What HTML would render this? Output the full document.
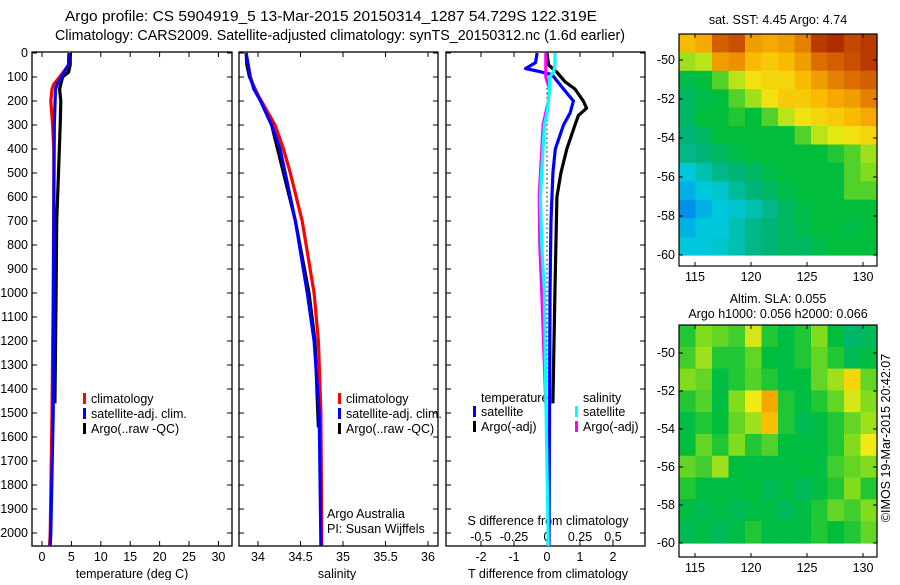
<!DOCTYPE html>
<html><head><meta charset="utf-8"><style>
body{margin:0;background:#fff;width:900px;height:580px;overflow:hidden}
svg text{font-family:"Liberation Sans",sans-serif;font-size:12.5px;fill:#000}
</style></head><body>
<svg id="c" width="900" height="580" xmlns="http://www.w3.org/2000/svg"></svg>
<script>
// ---- data ----
const depthTicks=[0,100,200,300,400,500,600,700,800,900,1000,1100,1200,1300,1400,1500,1600,1700,1800,1900,2000];
const tempTicks=[0,5,10,15,20,25,30];
const salTicks=[34,34.5,35,35.5,36];
const tdTicks=[-2,-1,0,1,2];
const sdTicks=[-0.5,-0.25,0,0.25,0.5];
const sdLabels=["-0.5","-0.25","0","0.25","0.5"];
const tdLabels=["-2","-1","0","1","2"];
const latTicks=[-50,-52,-54,-56,-58,-60];
const lonTicks=[115,120,125,130];
// temperature profiles [depth,value]
const tClim=[[0,4.6],[50,4.5],[80,3.6],[100,3.0],[130,2.0],[150,1.7],[200,1.5],[300,1.8],[400,2.0],[600,2.0],[1000,1.9],[1500,1.7],[2000,1.4],[2054,1.3]];
const tSat=[[0,4.6],[50,4.5],[80,3.8],[100,3.3],[130,2.6],[150,2.3],[300,2.1],[700,2.0],[1000,1.95],[1500,1.9],[2000,1.5],[2054,1.4]];
const tArgo=[[0,4.8],[50,4.8],[80,4.5],[100,3.5],[150,3.0],[200,3.2],[300,3.1],[500,2.8],[700,2.5],[1000,2.4],[1460,2.2]];
// salinity profiles
const sClim=[[0,33.86],[100,33.91],[150,33.96],[200,34.04],[300,34.2],[400,34.3],[500,34.38],[700,34.52],[1000,34.66],[1200,34.71],[1500,34.74],[2054,34.75]];
const sSat=[[0,33.86],[100,33.91],[150,33.95],[200,34.03],[300,34.16],[400,34.26],[500,34.32],[700,34.44],[1000,34.58],[1200,34.66],[1500,34.72],[2054,34.74]];
const sArgo=[[0,33.86],[50,33.87],[100,33.9],[200,34.03],[300,34.16],[500,34.3],[700,34.44],[1000,34.6],[1200,34.67],[1560,34.71]];
// differences
const dTsat=[[0,-0.3],[40,-0.35],[65,-0.65],[75,-0.3],[90,0.15],[150,0.5],[200,0.8],[250,0.7],[300,0.5],[400,0.25],[500,0.18],[700,0.12],[1000,0.09],[2054,0.06]];
const dTargo=[[0,0.0],[50,0.05],[80,0.3],[120,0.55],[150,0.85],[200,1.1],[230,1.2],[260,0.95],[300,0.85],[400,0.6],[500,0.42],[600,0.3],[800,0.27],[1000,0.24],[1460,0.18]];
const dSsat=[[0,0.06],[50,0.06],[80,0.05],[100,0.02],[150,0.02],[250,0.0],[300,-0.02],[400,-0.03],[600,-0.05],[800,-0.04],[1000,-0.02],[1400,-0.01],[2054,0.01]];
const dSargo=[[0,-0.01],[100,-0.01],[150,0.02],[200,0.01],[300,-0.03],[400,-0.04],[600,-0.06],[800,-0.055],[1000,-0.04],[1460,-0.01]];
// map fields (colour index 0..1), rows north->south
const sstGrid=[
[.75,.78,.9,.92,.8,.78,.8,.85,.95,.97,.93,.95],
[.6,.62,.8,.82,.75,.72,.75,.8,.88,.9,.92,.95],
[.48,.5,.55,.62,.68,.7,.7,.75,.8,.85,.88,.9],
[.45,.48,.5,.55,.6,.68,.72,.72,.75,.78,.8,.85],
[.45,.5,.5,.52,.5,.55,.62,.68,.7,.72,.75,.78],
[.42,.45,.5,.5,.5,.5,.5,.55,.62,.65,.68,.7],
[.4,.42,.45,.48,.5,.5,.5,.5,.5,.52,.55,.6],
[.3,.35,.4,.42,.45,.48,.5,.5,.5,.5,.55,.58],
[.28,.3,.32,.38,.42,.45,.48,.5,.5,.5,.55,.55],
[.25,.28,.3,.32,.35,.4,.45,.48,.5,.5,.5,.5],
[.28,.3,.3,.35,.4,.42,.45,.48,.5,.5,.48,.5],
[.3,.3,.32,.35,.4,.42,.45,.45,.48,.5,.5,.5]];
const slaGrid=[
[.52,.58,.56,.54,.64,.52,.49,.52,.58,.5,.44,.46],
[.54,.6,.52,.52,.56,.5,.49,.52,.56,.52,.47,.49],
[.58,.56,.49,.52,.55,.52,.49,.5,.56,.6,.7,.56],
[.52,.55,.49,.58,.66,.78,.52,.49,.52,.56,.64,.58],
[.49,.52,.5,.56,.6,.74,.52,.47,.49,.52,.56,.6],
[.5,.56,.52,.58,.52,.55,.5,.49,.49,.52,.58,.66],
[.56,.54,.6,.5,.49,.49,.49,.5,.49,.54,.56,.58],
[.52,.49,.49,.49,.5,.47,.49,.46,.49,.52,.58,.52],
[.49,.47,.49,.47,.49,.49,.46,.49,.52,.56,.54,.58],
[.47,.49,.46,.49,.52,.49,.49,.49,.52,.5,.52,.56]];

// ---- drawing ----
const S=document.getElementById('c');const NS='http://www.w3.org/2000/svg';
function el(t,a,p){const e=document.createElementNS(NS,t);for(const k in a)e.setAttribute(k,a[k]);(p||S).appendChild(e);return e;}
function txt(x,y,s,anc,p){const e=el('text',{x:x,y:y,'text-anchor':anc||'middle'},p);e.textContent=s;return e;}
const yD=d=>53+d*0.24;
const P1={x0:32,x1:232,sx:v=>42+v*5.88};
const P2={x0:239,x1:438,sx:v=>258+(v-34)*85};
const P3={x0:446,x1:645,sx:v=>547+v*33,ss:v=>547+v*132};
const PTOP=52,PBOT=546;

function frame(P,name){
  const g=el('g',{});
  
  
  el('rect',{x:P.x0,y:PTOP,width:P.x1-P.x0,height:PBOT-PTOP,fill:'none',stroke:'#000','stroke-width':1.3},g);
  depthTicks.forEach(d=>{const y=yD(d);el('line',{x1:P.x0,x2:P.x0+5,y1:y,y2:y,stroke:'#000'},g);el('line',{x1:P.x1-5,x2:P.x1,y1:y,y2:y,stroke:'#000'},g);});
  return g;
}
function line(P,data,sc,color,name,w){
  const pts=data.map(p=>sc(p[1]).toFixed(1)+','+yD(p[0]).toFixed(1)).join(' ');
  const e=el('polyline',{points:pts,fill:'none',stroke:color,'stroke-width':w||3.2,'stroke-linejoin':'round'});
  
  
}
function legend(x,y,items,g){
  items.forEach((it,i)=>{el('rect',{x:x,y:y+i*15-10,width:3,height:11,fill:it[0]},g);txt(x+8,y+i*15,it[1],'start',g);});
}
// titles
let t=txt(331,21,'Argo profile: CS 5904919_5 13-Mar-2015 20150314_1287 54.729S 122.319E');
t.setAttribute('style','font-size:14.5px');t.setAttribute('textLength','532');t.setAttribute('lengthAdjust','spacingAndGlyphs');

t=txt(340,40,'Climatology: CARS2009. Satellite-adjusted climatology: synTS_20150312.nc (1.6d earlier)');
t.setAttribute('style','font-size:14.5px');t.setAttribute('textLength','570');t.setAttribute('lengthAdjust','spacingAndGlyphs');


// panel 1
let g1=frame(P1,'temperature-panel');
depthTicks.forEach(d=>txt(28,yD(d)+4,String(d),'end',g1));
tempTicks.forEach(v=>{const x=P1.sx(v);el('line',{x1:x,x2:x,y1:PTOP,y2:PTOP+5,stroke:'#000'},g1);el('line',{x1:x,x2:x,y1:PBOT-5,y2:PBOT,stroke:'#000'},g1);txt(x,561,String(v),'middle',g1);});
txt(132,578,'temperature (deg C)','middle',g1);
line(P1,tArgo,P1.sx,'#000','temp-argo-line');
line(P1,tClim,P1.sx,'#f00','temp-climatology-line');
line(P1,tSat,P1.sx,'#00f','temp-satellite-line');
legend(83,403,[['#f00','climatology'],['#00f','satellite-adj. clim.'],['#000','Argo(..raw -QC)']],g1);

// panel 2
let g2=frame(P2,'salinity-panel');
salTicks.forEach(v=>{const x=P2.sx(v);el('line',{x1:x,x2:x,y1:PTOP,y2:PTOP+5,stroke:'#000'},g2);el('line',{x1:x,x2:x,y1:PBOT-5,y2:PBOT,stroke:'#000'},g2);txt(x,561,String(v),'middle',g2);});
txt(337,578,'salinity','middle',g2);
line(P2,sArgo,P2.sx,'#000','sal-argo-line');
line(P2,sClim,P2.sx,'#f00','sal-climatology-line');
line(P2,sSat,P2.sx,'#00f','sal-satellite-line');
legend(338,403,[['#f00','climatology'],['#00f','satellite-adj. clim.'],['#000','Argo(..raw -QC)']],g2);
txt(327,518,'Argo Australia','start',g2);txt(327,533,'PI: Susan Wijffels','start',g2);

// panel 3
let g3=frame(P3,'difference-panel');
tdTicks.forEach((v,i)=>{const x=P3.sx(v);el('line',{x1:x,x2:x,y1:PTOP,y2:PTOP+5,stroke:'#000'},g3);el('line',{x1:x,x2:x,y1:PBOT-5,y2:PBOT,stroke:'#000'},g3);txt(x,561,tdLabels[i],'middle',g3);});
sdTicks.forEach((v,i)=>txt(P3.ss(v),541,sdLabels[i],'middle',g3));
txt(548,525,'S difference from climatology','middle',g3);
txt(548,578,'T difference from climatology','middle',g3);
el('line',{x1:P3.sx(0),x2:P3.sx(0),y1:yD(90),y2:PBOT,stroke:'#000','stroke-dasharray':'1.5,3'},g3);
line(P3,dTargo,P3.sx,'#000','tdiff-argo-line');
line(P3,dTsat,P3.sx,'#00f','tdiff-satellite-line');
line(P3,dSargo,P3.ss,'#f0f','sdiff-argo-line',3);
line(P3,dSsat,P3.ss,'#0ff','sdiff-satellite-line');
txt(481,402,'temperature','start',g3);txt(583,402,'salinity','start',g3);
legend(473,416,[['#00f','satellite'],['#000','Argo(-adj)']],g3);
legend(575,416,[['#0ff','satellite'],['#f0f','Argo(-adj)']],g3);

// colour map (jet-like)
const cmap=[[0,[0,0,160]],[0.2,[0,90,255]],[0.3,[0,200,220]],[0.42,[0,180,120]],[0.5,[0,190,60]],[0.58,[130,220,30]],[0.66,[240,235,20]],[0.76,[250,180,0]],[0.88,[220,110,0]],[1,[160,20,0]]];
function col(v){for(let i=1;i<cmap.length;i++){if(v<=cmap[i][0]){const a=cmap[i-1],b=cmap[i],f=(v-a[0])/(b[0]-a[0]);return 'rgb('+a[1].map((c,k)=>Math.round(c+(b[1][k]-c)*f)).join(',')+')';}}return 'rgb(160,20,0)';}

function drawMap(M,grid,name){
  const g=el('g',{});
  
  
  const lx=lon=>695+(lon-115)*11.2;
  const ly=lat=>M.y50+(-50-lat)*M.dy;
  const latTop=-50+(M.y50-M.y0)/M.dy, latBot=-60;
  const lonL=115+(M.x0-695)/11.2, lonR=115+(M.x1-695)/11.2;
  const nr=grid.length,nc=grid[0].length;
  const cw=(lonR-lonL)/nc,ch=(latTop-latBot)/nr;
  grid.forEach((row,r)=>row.forEach((v,c)=>{
    const x=lx(lonL+c*cw),y=ly(latTop-r*ch);
    const cell=el('rect',{x:x.toFixed(1),y:y.toFixed(1),width:(lx(lonL+(c+1)*cw)-x+0.6).toFixed(1),height:(ly(latTop-(r+1)*ch)-y+0.6).toFixed(1),fill:col(v)},g);
    
    
  }));
  el('rect',{x:M.x0,y:M.y0,width:M.x1-M.x0,height:M.y1-M.y0,fill:'none',stroke:'#000','stroke-width':1.2},g);
  latTicks.forEach(l=>{const y=ly(l);el('line',{x1:M.x0,x2:M.x0+4,y1:y,y2:y,stroke:'#000'},g);el('line',{x1:M.x1-4,x2:M.x1,y1:y,y2:y,stroke:'#000'},g);txt(M.x0-4,y+4,String(l),'end',g);});
  lonTicks.forEach(l=>{const x=lx(l);el('line',{x1:x,x2:x,y1:M.y0,y2:M.y0+4,stroke:'#000'},g);el('line',{x1:x,x2:x,y1:M.y1-4,y2:M.y1,stroke:'#000'},g);txt(x,M.y1+15,String(l),'middle',g);});
}
drawMap({x0:679,x1:877,y0:34,y1:266,y50:60,dy:19.5},sstGrid,'sst-map');
drawMap({x0:679,x1:877,y0:325,y1:557,y50:353,dy:19},slaGrid,'sla-map');
txt(778,24,'sat. SST: 4.45 Argo: 4.74');
txt(778,303,'Altim. SLA: 0.055');
txt(778,318,'Argo h1000: 0.056 h2000: 0.066');
t=txt(0,0,'©IMOS 19-Mar-2015 20:42:07','middle');
t.setAttribute('transform','translate(890,438) rotate(-90)');

</script>
</body></html>
